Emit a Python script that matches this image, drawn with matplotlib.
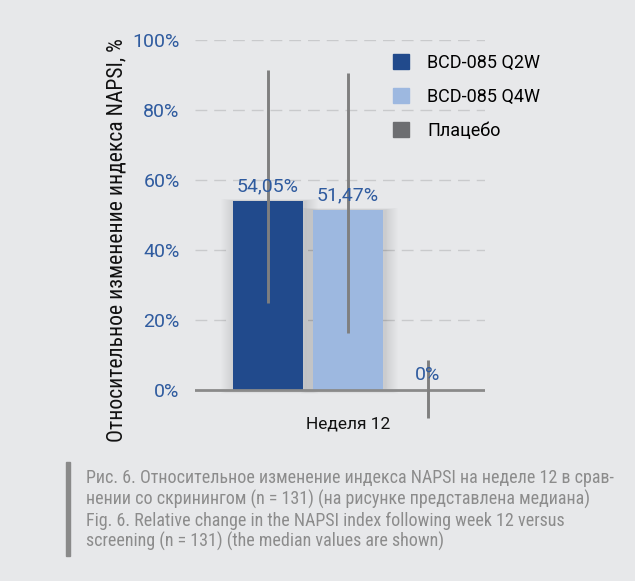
import matplotlib
matplotlib.use('Agg')
import matplotlib.pyplot as plt
from matplotlib.patches import Patch, Rectangle
import numpy as np

plt.rcParams['font.family'] = ['Roboto', 'DejaVu Sans']
narrow = ['Roboto Condensed', 'PT Sans Narrow', 'DejaVu Sans']

# data
groups = ['BCD-085 Q2W', 'BCD-085 Q4W', 'Плацебо']
medians = [54.05, 51.47, 0.0]
value_labels = ['54,05%', '51,47%', '0%']
err_low = [25.0, 16.3, -8.0]
err_high = [91.5, 90.6, 8.6]
colors = ['#214a8c', '#9db8e0', '#6d6e71']
week_label = 'Неделя 12'
yticks = [0, 20, 40, 60, 80, 100]
ylabel = 'Относительное изменение индекса NAPSI, %'
caption = [
    'Рис. 6. Относительное изменение индекса NAPSI на неделе 12 в срав-',
    'нении со скринингом (n = 131) (на рисунке представлена медиана)',
    'Fig. 6. Relative change in the NAPSI index following week 12 versus',
    'screening (n = 131) (the median values are shown)',
]

bg = '#e7e8ea'
blue_txt = '#2f5b9f'

fig = plt.figure(figsize=(6.35, 5.81), dpi=100, facecolor=bg)
ax = fig.add_axes([195/635, 149/581, 290/635, 392/581])
ax.set_facecolor('none')

x = np.arange(len(groups))
w = 0.875

# grid
for t in yticks[1:]:
    ax.axhline(t, color='#c9cacc', lw=1, ls=(0, (8.5, 5)), zorder=0)

bars = ax.bar(x, medians, width=w, color=colors, zorder=3)

# soft shadow behind bars (many faint layers)
for b in bars:
    if b.get_height() <= 0:
        continue
    for k in range(1, 15):
        pad = 0.012 * k
        r = Rectangle((b.get_x() - pad + 0.02, -pad * 6),
                      b.get_width() + pad * 2, b.get_height() + pad * 9,
                      color='#4a4a4a', alpha=0.013, lw=0, zorder=2)
        ax.add_patch(r)

ax.axhline(0, color='#8a8a8a', lw=2, zorder=4)
ax.vlines(x, err_low, err_high, color='#7f7f7f', lw=2.1, zorder=5, clip_on=False)

for xi, v, lab in zip(x, medians, value_labels):
    ax.annotate(lab, (xi, v), xytext=(0, 4), textcoords='offset points',
                ha='center', va='bottom', color=blue_txt, fontsize=14, zorder=6)

ax.set_xlim(-0.9125, 2.7125)
ax.set_ylim(-12, 100)
ax.set_yticks(yticks)
ax.set_yticklabels([f'{t}%' for t in yticks], color=blue_txt, fontsize=14)
ax.set_xticks([1])
ax.set_xticklabels([week_label], fontsize=12.5, color='#111111')
ax.tick_params(axis='y', length=0, pad=11)
ax.tick_params(axis='x', length=0, pad=-11)
for s in ax.spines.values():
    s.set_visible(False)

fig.text(117/635, 1 - 240/581, ylabel, rotation=90, ha='center', va='center',
         fontsize=15.6, color='#111111', family=narrow)

handles = [Patch(color=c) for c in colors]
fig.legend(handles, groups, loc='upper left', bbox_to_anchor=(393/635, 1 - 54/581),
           frameon=False, fontsize=13, handlelength=0.9, handleheight=0.9,
           handletextpad=1.0, labelspacing=0.89, borderpad=0, borderaxespad=0)

# caption
fig.patches.append(Rectangle((66/635, 1 - 556/581), 4/635, 94/581,
                             transform=fig.transFigure, color='#8a8a8a', figure=fig))
for i, line in enumerate(caption):
    fig.text(86/635, 1 - (478 + 21.3*i)/581, line, ha='left', va='center',
             fontsize=13, color='#8c8c8c', family=narrow)

fig.savefig('out.png', dpi=100, facecolor=bg)
